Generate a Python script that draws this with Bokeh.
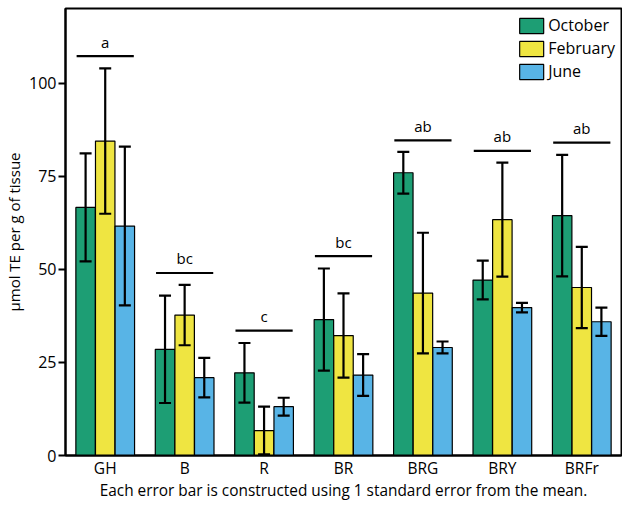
from bokeh.plotting import figure
from bokeh.models import ColumnDataSource, FactorRange, Whisker, TeeHead, Legend, LegendItem, FixedTicker
from bokeh.transform import dodge
from bokeh.core.properties import value
from bokeh.embed import file_html
from bokeh.resources import INLINE

categories = ["GH", "B", "R", "BR", "BRG", "BRY", "BRFr"]
series = ["October", "February", "June"]
october = [66.6, 28.5, 22.2, 36.5, 75.9, 47.1, 64.4]
october_se = [14.5, 14.4, 8.0, 13.7, 5.6, 5.2, 16.3]
february = [84.4, 37.7, 6.7, 32.2, 43.6, 63.3, 45.1]
february_se = [19.5, 8.1, 6.4, 11.3, 16.2, 15.3, 10.9]
june = [61.6, 20.9, 13.1, 21.6, 29.0, 39.7, 35.9]
june_se = [21.3, 5.3, 2.4, 5.6, 1.6, 1.3, 3.8]
letters = ["a", "bc", "c", "bc", "ab", "ab", "ab"]
letter_line_y = [107.2, 49.0, 33.5, 53.5, 84.6, 81.8, 84.0]
y_ticks = [0, 25, 50, 75, 100]
note = "Each error bar is constructed using 1 standard error from the mean."

colors = ["#1d9e74", "#efe541", "#58b4e6"]
FONT = "Open Sans"

data = dict(cat=categories)
for name, vals, ses in (("oct", october, october_se), ("feb", february, february_se), ("jun", june, june_se)):
    data[name] = vals
    data[name + "_up"] = [v + s for v, s in zip(vals, ses)]
    data[name + "_lo"] = [max(v - s, 0) for v, s in zip(vals, ses)]
data["letter"] = letters
data["ly"] = letter_line_y
data["ty"] = [y + 3.9 for y in letter_line_y]
src = ColumnDataSource(data)

p = figure(x_range=FactorRange(factors=categories, range_padding=0), y_range=(0, 120),
           width=622, height=503, output_backend="svg", toolbar_location=None,
           min_border_left=65, min_border_right=1, min_border_top=8, min_border_bottom=36)

off = 0.247
bw = 0.245
renderers = []
for i, (name, lab) in enumerate(zip(["oct", "feb", "jun"], series)):
    dx = (i - 1) * off
    r = p.vbar(x=dodge("cat", dx, range=p.x_range), top=name, width=bw, source=src,
               fill_color=colors[i], line_color="black", line_width=1.2)
    renderers.append((lab, r))
for i, name in enumerate(["oct", "feb", "jun"]):
    dx = (i - 1) * off
    w = Whisker(base=dodge("cat", dx, range=p.x_range), upper=name + "_up", lower=name + "_lo", source=src,
                line_color="black", line_width=2.2, level="overlay",
                upper_head=TeeHead(size=12, line_width=2.2, line_color="black"),
                lower_head=TeeHead(size=12, line_width=2.2, line_color="black"))
    p.add_layout(w)

p.segment(x0=dodge("cat", -0.36, range=p.x_range), x1=dodge("cat", 0.36, range=p.x_range),
          y0="ly", y1="ly", source=src, line_color="black", line_width=2.2)
p.text(x="cat", y="ty", text="letter", source=src, text_align="center", text_baseline="middle",
       text_font=value(FONT), text_font_size="15px", text_color="black")

legend = Legend(items=[LegendItem(label=l, renderers=[r]) for l, r in renderers],
                location="top_right", glyph_width=30, glyph_height=19, label_height=19,
                spacing=1, padding=0, margin=6, label_standoff=2,
                label_text_font=FONT, label_text_font_size="16px", label_text_color="black",
                border_line_color=None, background_fill_alpha=0)
p.add_layout(legend)

p.xgrid.grid_line_color = None
p.ygrid.grid_line_color = None
p.outline_line_color = "black"
p.outline_line_width = 2
p.outline_line_alpha = 1

ya = p.yaxis[0]
ya.ticker = FixedTicker(ticks=y_ticks)
ya.minor_tick_line_color = None
ya.major_tick_out = 7
ya.major_tick_in = 0
ya.major_tick_line_width = 2
ya.axis_line_width = 2
ya.major_label_text_font = FONT
ya.major_label_text_font_size = "16px"
ya.major_label_text_color = "black"
ya.major_label_standoff = 2
ya.axis_label = "µmol TE per g of tissue"
ya.axis_label_text_font = FONT
ya.axis_label_text_font_size = "15px"
ya.axis_label_text_font_style = "normal"
ya.axis_label_text_color = "black"
ya.axis_label_standoff = 2

xa = p.xaxis[0]
xa.major_tick_line_color = None
xa.major_tick_out = 0
xa.major_tick_in = 0
xa.minor_tick_line_color = None
xa.minor_tick_out = 0
xa.axis_line_width = 2
xa.major_label_text_font = FONT
xa.major_label_text_font_size = "15.5px"
xa.major_label_text_color = "black"
xa.major_label_standoff = 1
xa.axis_label = note
xa.axis_label_text_font = FONT
xa.axis_label_text_font_size = "15.4px"
xa.axis_label_text_font_style = "normal"
xa.axis_label_text_color = "black"
xa.axis_label_standoff = -2

open("out.html", "w").write(file_html(p, INLINE))
